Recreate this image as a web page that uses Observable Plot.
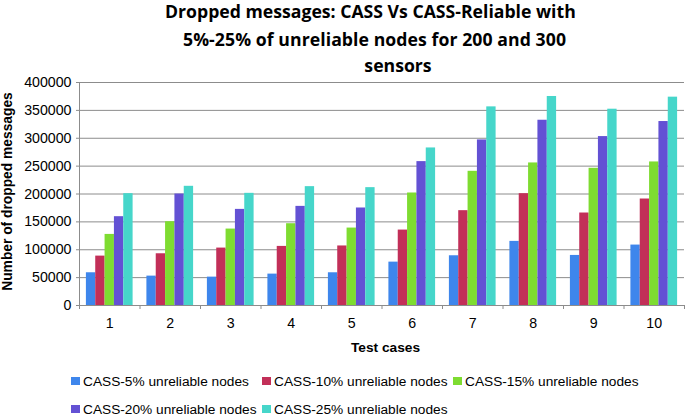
<!DOCTYPE html>
<html>
<head>
<meta charset="utf-8">
<script src="https://cdn.jsdelivr.net/npm/d3@7"></script>
<script src="https://cdn.jsdelivr.net/npm/@observablehq/plot@0.6"></script>
<style>
  html, body { margin: 0; padding: 0; background: #fff; }
  body { width: 685px; height: 418px; overflow: hidden; font-family: "Liberation Sans", Arial, sans-serif; }
  #title { position: relative; height: 66px; z-index: 2; }
  #title .line { position: absolute; font-weight: bold; white-space: nowrap; color: #000; font-family: "Open Sans", "Liberation Sans", sans-serif; }
  #chart { position: relative; z-index: 1; }
  #chart svg { overflow: visible; }
  #legend { display: grid; grid-template-columns: repeat(3, 191px); grid-auto-rows: 28px; padding-top: 5px; margin-left: 71px; }
  #legend .item { display: flex; align-items: center; font-size: 13.7px; color: #000; white-space: nowrap; }
  #legend .sw { width: 8.5px; height: 8.5px; margin-right: 3.5px; flex: none; }
</style>
</head>
<body>
<div id="title"></div>
<div id="chart"></div>
<div id="legend"></div>
<script>
// ---- data ----
const titleLines = [
  "Dropped messages: CASS Vs CASS-Reliable with",
  "5%-25% of unreliable nodes for 200 and 300",
  "sensors"
];
const cases = [1, 2, 3, 4, 5, 6, 7, 8, 9, 10];
const seriesNames = [
  "CASS-5% unreliable nodes",
  "CASS-10% unreliable nodes",
  "CASS-15% unreliable nodes",
  "CASS-20% unreliable nodes",
  "CASS-25% unreliable nodes"
];
const cass5  = [58700, 52700, 50900, 56300, 58700, 77800, 89200, 115000, 89800, 108400];
const cass10 = [88600, 92800, 103000, 106000, 106800, 135300, 170100, 200600, 165900, 191000];
const cass15 = [127500, 150300, 137100, 146700, 138900, 201800, 240700, 255700, 246100, 257500];
const cass20 = [159300, 200000, 172400, 177800, 174900, 258100, 297000, 332300, 303000, 330000];
const cass25 = [200600, 213800, 201200, 213200, 211400, 282600, 356300, 374900, 352100, 373700];
const yTicks = [0, 50000, 100000, 150000, 200000, 250000, 300000, 350000, 400000];
const xLabel = "Test cases";
const yLabel = "Number of dropped messages";
const colors = ["#3e86ec", "#c22f58", "#7edc31", "#6351d4", "#46d6ca"];

// ---- title ----
const titleBox = document.getElementById("title");
const titlePlacement = [
  {left: 165, baseline: 19, width: 411},
  {left: 183, baseline: 47, width: 383},
  {left: 359, baseline: 73, width: 78}
];
const ctx = document.createElement("canvas").getContext("2d");
ctx.font = "bold 100px 'Open Sans'";
const titleSize = 100 * titlePlacement[0].width / ctx.measureText(titleLines[0]).width;
ctx.font = `bold ${titleSize}px 'Open Sans'`;
titleLines.forEach((t, i) => {
  const el = document.createElement("div");
  el.className = "line";
  el.textContent = t;
  const p = titlePlacement[i];
  const natural = ctx.measureText(t).width;
  let left = p.left, ls = 0;
  if (i === 1) ls = (p.width - natural) / Math.max(1, t.length - 1);
  if (i === 2) left = p.left + (p.width - natural) / 2;
  el.style.fontSize = titleSize + "px";
  el.style.lineHeight = titleSize + "px";
  el.style.left = left + "px";
  el.style.top = (p.baseline - 0.888 * titleSize) + "px";
  el.style.letterSpacing = ls + "px";
  titleBox.appendChild(el);
});

// ---- chart ----
const allSeries = [cass5, cass10, cass15, cass20, cass25];
const data = [];
allSeries.forEach((vals, k) => vals.forEach((v, j) => data.push({case: cases[j], k, series: seriesNames[k], value: v})));
const groupW = 0.772;
const barW = groupW / seriesNames.length;
const boundaries = [...cases.map(c => c - 0.5), d3.max(cases) + 0.5];
const grid = "#8c8c8c";

const chart = Plot.plot({
  width: 685,
  height: 296,
  marginLeft: 79,
  marginRight: 1,
  marginTop: 16,
  marginBottom: 57,
  style: {fontFamily: "Liberation Sans, Arial, sans-serif", fontSize: "14.2px", color: "#000", background: "transparent", overflow: "visible"},
  x: {type: "linear", domain: [d3.min(cases) - 0.5, d3.max(cases) + 0.5], axis: null},
  y: {domain: [0, d3.max(yTicks)], axis: null},
  color: {domain: seriesNames, range: colors},
  marks: [
    Plot.gridY({ticks: yTicks, stroke: grid, strokeOpacity: 1, strokeWidth: 1}),
    Plot.ruleX([d3.min(cases) - 0.5], {stroke: grid, strokeWidth: 1}),
    Plot.rectY(data, {
      x1: d => d.case - groupW / 2 + d.k * barW,
      x2: d => d.case - groupW / 2 + (d.k + 1) * barW,
      y1: 0,
      y2: "value",
      fill: "series"
    }),
    Plot.axisY({ticks: yTicks, tickSize: 3, tickPadding: 5, stroke: grid, tickFormat: d3.format("d"), label: null, fill: "#000"}),
    Plot.axisX({ticks: boundaries, tickSize: 4, stroke: grid, tickFormat: () => "", label: null}),
    Plot.axisX({ticks: cases, tickSize: 0, tickPadding: 12, tickFormat: d3.format("d"), label: null, fill: "#000"}),
    Plot.text([xLabel], {frameAnchor: "bottom", dy: 46, dx: 3.5, fontWeight: "bold", fontSize: 13.7, fill: "#000"}),
    Plot.text([yLabel], {frameAnchor: "left", textAnchor: "middle", rotate: -90, dx: -72, dy: -2.5, fontWeight: "bold", fontSize: 13.8, fill: "#000"})
  ]
});
document.getElementById("chart").appendChild(chart);

// ---- legend ----
const legend = document.getElementById("legend");
seriesNames.forEach((name, i) => {
  const item = document.createElement("div");
  item.className = "item";
  const sw = document.createElement("span");
  sw.className = "sw";
  sw.style.background = colors[i];
  const tx = document.createElement("span");
  tx.textContent = name;
  item.appendChild(sw);
  item.appendChild(tx);
  legend.appendChild(item);
});
</script>
</body>
</html>
